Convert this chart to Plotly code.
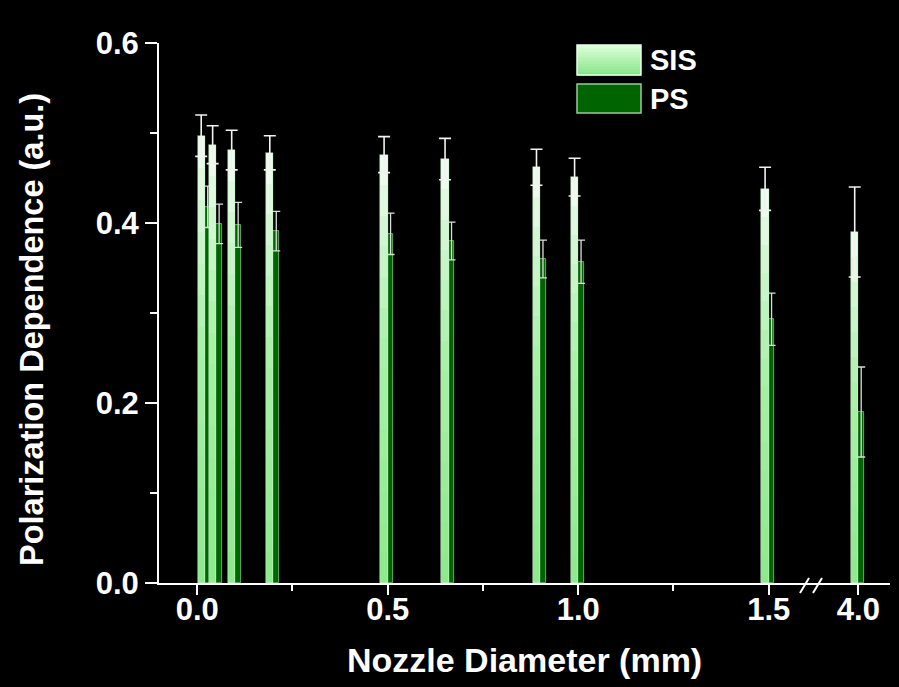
import plotly.graph_objects as go

# ---- data ----
nozzle_mm = [0.02, 0.05, 0.1, 0.2, 0.5, 0.66, 0.9, 1.0, 1.5, 4.0]
sis = [0.497, 0.487, 0.481, 0.478, 0.476, 0.471, 0.462, 0.451, 0.438, 0.390]
sis_err = [0.023, 0.021, 0.022, 0.019, 0.020, 0.023, 0.020, 0.021, 0.024, 0.050]
ps = [0.418, 0.399, 0.398, 0.391, 0.388, 0.380, 0.360, 0.357, 0.293, 0.190]
ps_err = [0.023, 0.022, 0.025, 0.022, 0.023, 0.021, 0.021, 0.024, 0.029, 0.050]
x_ticks_left = [0.0, 0.5, 1.0, 1.5]
x_ticks_right = [4.0]
y_ticks = [0.0, 0.2, 0.4, 0.6]
break_at = 2.0

W, H = 899, 687
L, R, T, B = 159, 9, 43, 104
PW, PH = W - L - R, H - T - B
split_px = 811
dom_split = (split_px - L) / PW


def px(x):
    return (x - L) / PW


def py(y):
    return (H - B - y) / PH


def hex2rgb(h):
    h = h.lstrip("#")
    return [int(h[i:i + 2], 16) for i in (0, 2, 4)]


def grad(stops, t):
    for (t0, c0), (t1, c1) in zip(stops[:-1], stops[1:]):
        if t0 <= t <= t1:
            f = (t - t0) / (t1 - t0) if t1 > t0 else 0
            a, b = hex2rgb(c0), hex2rgb(c1)
            return "rgb(%d,%d,%d)" % tuple(round(a[k] + (b[k] - a[k]) * f) for k in range(3))
    return stops[-1][1]


FONT = "Liberation Sans, Arial, sans-serif"
SIS_STOPS = [(0.0, "#8de88d"), (0.55, "#aaf0aa"), (0.85, "#d6f7d6"), (1.0, "#f4fbf4")]
PS_COL = "#006400"
NSEG = 14
SIS_W, PS_W = 0.019, 0.015

fig = go.Figure()

for side, xa in (("left", "x"), ("right", "x2")):
    idx = [i for i, v in enumerate(nozzle_mm) if (v < break_at) == (side == "left")]
    xs = [nozzle_mm[i] for i in idx]
    # PS bars
    fig.add_trace(go.Bar(
        x=xs, y=[ps[i] for i in idx], xaxis=xa, yaxis="y",
        width=PS_W, offset=0.0, name="PS", showlegend=False,
        marker=dict(color=PS_COL, line=dict(color="#7cc47c", width=0.8)),
        error_y=dict(type="data", array=[ps_err[i] for i in idx], visible=True,
                     color="#dcdcdc", thickness=1.3, width=4),
    ))
    # SIS bars: vertical gradient built from stacked slices
    for k in range(NSEG):
        fig.add_trace(go.Bar(
            x=xs, y=[sis[i] / NSEG for i in idx],
            base=[sis[i] * k / NSEG for i in idx],
            xaxis=xa, yaxis="y", width=SIS_W, offset=-SIS_W,
            name="SIS", showlegend=False, hoverinfo="skip",
            marker=dict(color=grad(SIS_STOPS, (k + 0.5) / NSEG), line=dict(width=0)),
        ))
    # SIS outline + error bars
    fig.add_trace(go.Bar(
        x=xs, y=[sis[i] for i in idx], xaxis=xa, yaxis="y",
        width=SIS_W, offset=-SIS_W, name="SIS", showlegend=False,
        marker=dict(color="rgba(0,0,0,0)", line=dict(color="#c8f5c8", width=0.6)),
        error_y=dict(type="data", array=[sis_err[i] for i in idx], visible=True,
                     color="#f2f2f2", thickness=1.6, width=6),
    ))

axis_common = dict(
    showline=True, linecolor="white", linewidth=2,
    ticks="outside", tickcolor="white", tickwidth=2, ticklen=10,
    showgrid=False, zeroline=False,
    tickfont=dict(family=FONT, size=31, color="white", weight="bold"),
)

fig.update_layout(
    width=W, height=H,
    margin=dict(l=L, r=R, t=T, b=B, pad=0),
    paper_bgcolor="black", plot_bgcolor="black",
    barmode="overlay", bargap=0,
    showlegend=False,
    xaxis=dict(domain=[0, dom_split], range=[-0.1003, 1.611],
               tickvals=x_ticks_left, ticktext=[f"{v:.1f}" for v in x_ticks_left],
               minor=dict(dtick=0.25, tick0=0, ticks="outside", ticklen=6,
                          tickcolor="white", tickwidth=2),
               anchor="y", ticklabelstandoff=-12, **axis_common),
    xaxis2=dict(domain=[dom_split, 1], range=[3.876, 4.083],
                tickvals=x_ticks_right, ticktext=[f"{v:.1f}" for v in x_ticks_right],
                anchor="y", ticklabelstandoff=-12, **axis_common),
    yaxis=dict(range=[0, 0.6], tickvals=y_ticks,
               ticktext=[f"{v:.1f}" for v in y_ticks],
               minor=dict(dtick=0.1, tick0=0, ticks="outside", ticklen=7,
                          tickcolor="white", tickwidth=2),
               **{**axis_common, "ticklen": 12}),
)

# axis titles
fig.add_annotation(x=0.5, y=py(660), xref="paper", yref="paper",
                   text="Nozzle Diameter (mm)", showarrow=False,
                   xanchor="center", yanchor="middle",
                   font=dict(family=FONT, size=34, color="white", weight="bold"))
fig.add_annotation(x=px(32), y=py(330), xref="paper", yref="paper",
                   text="Polarization Dependence (a.u.)", showarrow=False,
                   textangle=-90, xanchor="center", yanchor="middle",
                   font=dict(family=FONT, size=32.5, color="white", weight="bold"))

# axis break marks
for x0, x1 in ((800, 809), (813, 822)):
    fig.add_shape(type="line", xref="paper", yref="paper",
                  x0=px(x0), y0=py(593), x1=px(x1), y1=py(578),
                  line=dict(color="white", width=2))

# legend drawn as boxes + labels (SIS box with vertical gradient)
LEG_STOPS = [(0.0, "#86e486"), (1.0, "#dcffdc")]
nb = 10
top, bot = 45, 75
for k in range(nb):
    y_lo = bot - (bot - top) * k / nb
    y_hi = bot - (bot - top) * (k + 1) / nb
    fig.add_shape(type="rect", xref="paper", yref="paper",
                  x0=px(577), x1=px(641), y0=py(y_lo + 0.5), y1=py(y_hi),
                  fillcolor=grad(LEG_STOPS, (k + 0.5) / nb), line=dict(width=0))
fig.add_shape(type="rect", xref="paper", yref="paper",
              x0=px(577), x1=px(641), y0=py(bot), y1=py(top),
              fillcolor="rgba(0,0,0,0)", line=dict(color="#e6ffe6", width=1.5))
fig.add_shape(type="rect", xref="paper", yref="paper",
              x0=px(577), x1=px(641), y0=py(113), y1=py(84),
              fillcolor=PS_COL, line=dict(color="#9cc89c", width=1.5))
for label, yc in (("SIS", 60), ("PS", 99)):
    fig.add_annotation(x=px(648), y=py(yc), xref="paper", yref="paper",
                       text=label, showarrow=False, xanchor="left", yanchor="middle",
                       font=dict(family=FONT, size=29, color="white", weight="bold"))

fig.write_html(
    "out.html",
    config={"displayModeBar": False},
    post_script="document.body.style.margin='0';document.body.style.background='black';",
)
